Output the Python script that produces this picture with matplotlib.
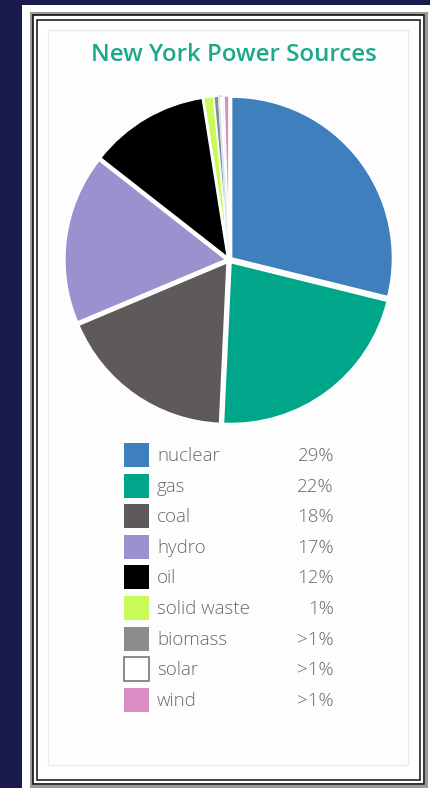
import matplotlib
matplotlib.use("Agg")
import matplotlib.pyplot as plt
from matplotlib.patches import Rectangle

categories = ["nuclear", "gas", "coal", "hydro", "oil", "solid waste", "biomass", "solar", "wind"]
values = [29, 22, 18, 17, 12, 1, 0.5, 0.5, 0.5]
pct_labels = ["29%", "22%", "18%", "17%", "12%", "1%", ">1%", ">1%", ">1%"]
colors = ["#3f7fbd", "#00a689", "#5e5a5a", "#9a92cf", "#000000", "#c8fb5a", "#8c8c8c", "#ffffff", "#d98dc2"]
title = "New York Power Sources"

W, H = 431, 788
fig = plt.figure(figsize=(W / 100, H / 100), dpi=100)
fig.patch.set_facecolor("#1b1a4e")

def px_rect(x0, y0, x1, y1, **kw):
    # pixel coords from top-left
    r = Rectangle((x0 / W, 1 - y1 / H), (x1 - x0) / W, (y1 - y0) / H,
                  transform=fig.transFigure, **kw)
    fig.patches.append(r)
    return r

px_rect(22, 5, 431, 790, facecolor="white", edgecolor="none")
px_rect(31, 13, 426, 786, facecolor="none", edgecolor="#9a9a9a", linewidth=2.2)
px_rect(33, 15, 424, 784, facecolor="none", edgecolor="#111111", linewidth=1.2)
px_rect(37, 20, 420, 780, facecolor="none", edgecolor="#222222", linewidth=1.2)
px_rect(48, 30, 408, 765, facecolor="#fdfdfd", edgecolor="#e6ebf0", linewidth=1.0)

fig.text(234 / W, 1 - 55 / H, title, ha="center", va="center", color="#1ba88b",
         fontsize=17.3, fontweight="semibold", family="Open Sans")

# Pie
cx, cy, R = 229, 260, 161
half = R * 1.1
ax = fig.add_axes([(cx - half) / W, 1 - (cy + half) / H, 2 * half / W, 2 * half / H])
ax.set_zorder(5)
ax.patch.set_visible(False)
wedges, _ = ax.pie(values, colors=colors, startangle=90, counterclock=False,
                   explode=[0.02] * len(values),
                   wedgeprops=dict(edgecolor="white", linewidth=1.2))
for w, c in zip(wedges, colors):
    if c == "#ffffff":
        w.set_edgecolor("#cfe8ee")
ax.set_xlim(-1.1, 1.1)
ax.set_ylim(-1.1, 1.1)
ax.set_aspect("equal")
ax.axis("off")

# Legend
top, step = 455, 30.6
for i, (cat, pct, col) in enumerate(zip(categories, pct_labels, colors)):
    yc = top + i * step
    ec = "#777777" if col == "#ffffff" else "none"
    px_rect(124, yc - 12, 149, yc + 12, facecolor=col, edgecolor=ec, linewidth=1.2)
    fig.text(157 / W, 1 - (yc + 1) / H, cat, ha="left", va="center", color="#6a6a6a",
             fontsize=13.5, family="Open Sans", fontweight="light")
    fig.text(334 / W, 1 - (yc + 1) / H, pct, ha="right", va="center", color="#6a6a6a",
             fontsize=13.5, family="Open Sans", fontweight="light")

fig.savefig("out.png", dpi=100, facecolor=fig.get_facecolor())
